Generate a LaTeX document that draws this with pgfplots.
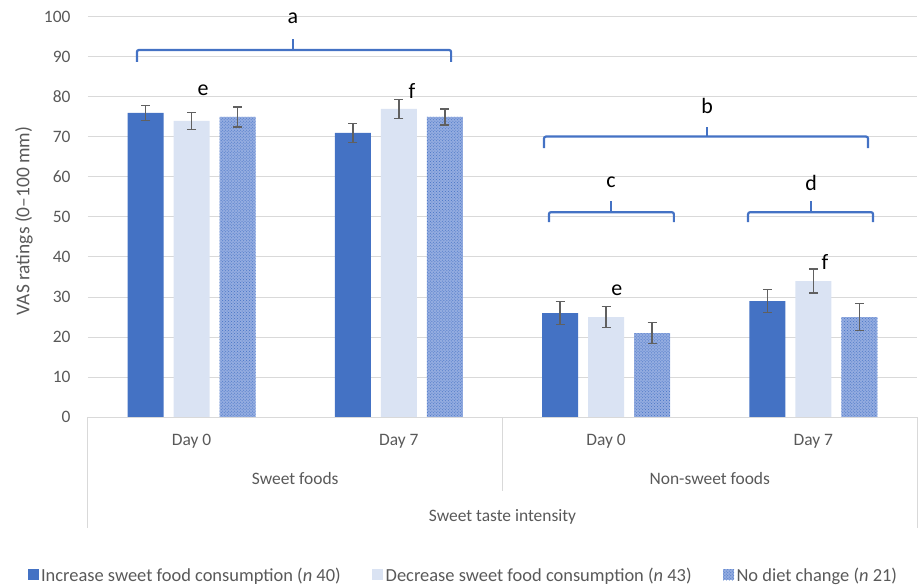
\documentclass[border=0pt]{standalone}
\usepackage{pgfplots}
\pgfplotsset{compat=1.18}
\usepackage{fontspec}
\setmainfont{Carlito}
\usetikzlibrary{patterns}
\definecolor{cInc}{HTML}{4472C4}
\definecolor{cDec}{HTML}{DAE3F3}
\definecolor{cNoBg}{HTML}{94ACE0}
\definecolor{cTxt}{HTML}{595959}
\definecolor{cGrid}{HTML}{D9D9D9}
\definecolor{cErr}{HTML}{606060}

\pgfplotstableread{
x  y   e
0  76  1.8
1  71  2.4
2  26  2.8
3  29  2.9
}\tInc
\pgfplotstableread{
x  y   e
0  74  2.2
1  77  2.4
2  25  2.6
3  34  3.0
}\tDec
\pgfplotstableread{
x  y   e
0  75  2.5
1  75  2.0
2  21  2.7
3  25  3.3
}\tNo

\begin{document}
\begin{tikzpicture}[font=\fontsize{17.5}{20}\selectfont]
\begin{axis}[
  scale only axis,
  width=829bp, height=400bp,
  xmin=-0.5, xmax=3.5,
  ymin=0, ymax=100,
  ytick={0,10,...,100},
  xtick=\empty,
  ymajorgrids,
  grid style={cGrid, line width=1bp},
  axis line style={draw=none},
  major tick length=0pt,
  /pgf/number format/assume math mode=true,
  yticklabel style={font=\fontsize{17.5}{20}\selectfont, text=cTxt, xshift=-14bp},
  ylabel={VAS ratings (0--100 mm)},
  ylabel style={font=\fontsize{19.5}{22}\selectfont, text=cTxt, at={(axis description cs:-0.0772,0.49)}, anchor=center},
  ybar=10bp,
  bar width=36bp,
  clip=false,
  error bars/y dir=both,
  error bars/y explicit,
  error bars/error bar style={cErr, line width=1.3bp},
  error bars/error mark options={rotate=90, cErr, mark size=4.5bp, line width=1.3bp},
  legend columns=3,
  legend style={draw=none, fill=none, at={(axis description cs:0.453,-0.395)}, anchor=center,
     font=\fontsize{18.5}{21}\selectfont, text=cTxt,
     nodes={inner xsep=2.5bp},
     /tikz/every even column/.append style={column sep=29bp},
     /tikz/every odd column/.append style={column sep=0bp}},
  legend image code/.code={\draw[#1, draw=none] (0bp,-5bp) rectangle (11bp,6bp);},
]
\addplot[fill=cInc, draw=none] table[x=x, y=y, y error=e] {\tInc};
\addlegendentry{Increase sweet food consumption (\textit{n} 40)}
\addplot[fill=cDec, draw=none] table[x=x, y=y, y error=e] {\tDec};
\addlegendentry{Decrease sweet food consumption (\textit{n} 43)}
\addplot[fill=cNoBg, draw=none, postaction={pattern=crosshatch dots, pattern color=cInc}] table[x=x, y=y, y error=e] {\tNo};
\addlegendentry{No diet change (\textit{n} 21)}

% baseline and category table
\draw[cGrid, line width=1bp] (axis cs:-0.5,0) -- (axis cs:3.5,0);
\draw[cGrid, line width=1bp] (axis cs:-0.5,0) -- (axis cs:-0.5,-27.75);
\draw[cGrid, line width=1bp] (axis cs:3.5,0) -- (axis cs:3.5,-27.75);
\draw[cGrid, line width=1bp] (axis cs:1.5,0) -- (axis cs:1.5,-18.5);
\node[text=cTxt] at (axis cs:0,-6) {Day 0};
\node[text=cTxt] at (axis cs:1,-6) {Day 7};
\node[text=cTxt] at (axis cs:2,-6) {Day 0};
\node[text=cTxt] at (axis cs:3,-6) {Day 7};
\node[text=cTxt] at (axis cs:0.5,-15.5) {Sweet foods};
\node[text=cTxt] at (axis cs:2.5,-15.5) {Non-sweet foods};
\node[text=cTxt] at (axis cs:1.5,-25) {Sweet taste intensity};

% braces
\begin{scope}[cInc, line width=2.2bp, rounded corners=2bp]
\draw (axis cs:-0.264,88.75) -- (axis cs:-0.264,91.75) -- (axis cs:1.252,91.75) -- (axis cs:1.252,88.75);
\draw[rounded corners=0pt] (axis cs:0.489,91.75) -- (axis cs:0.489,94.5);
\draw (axis cs:1.70,67.2) -- (axis cs:1.70,70.1) -- (axis cs:3.264,70.1) -- (axis cs:3.264,67.2);
\draw[rounded corners=0pt] (axis cs:2.487,70.1) -- (axis cs:2.487,72.6);
\draw (axis cs:1.724,48.7) -- (axis cs:1.724,51.2) -- (axis cs:2.327,51.2) -- (axis cs:2.327,48.7);
\draw[rounded corners=0pt] (axis cs:2.024,51.2) -- (axis cs:2.024,54.1);
\draw (axis cs:2.685,48.7) -- (axis cs:2.685,51.2) -- (axis cs:3.288,51.2) -- (axis cs:3.288,48.7);
\draw[rounded corners=0pt] (axis cs:2.989,51.2) -- (axis cs:2.989,54.1);
\end{scope}
\begin{scope}[font=\fontsize{22}{24}\selectfont]
\node at (axis cs:0.489,99.6) {a};
\node at (axis cs:2.487,77.8) {b};
\node at (axis cs:2.024,58.6) {c};
\node at (axis cs:2.989,58.6) {d};
\node at (axis cs:0.055,81.6) {e};
\node at (axis cs:1.063,81.6) {f};
\node at (axis cs:2.052,31.6) {e};
\node at (axis cs:3.056,38.8) {f};
\end{scope}
\coordinate (ll) at (axis cs:-0.5,0);
\coordinate (ur) at (axis cs:3.5,100);
\end{axis}
\pgfresetboundingbox
\path ([shift={(-88bp,-169bp)}]ll) rectangle ([shift={(5bp,17bp)}]ur);
\end{tikzpicture}
\end{document}
